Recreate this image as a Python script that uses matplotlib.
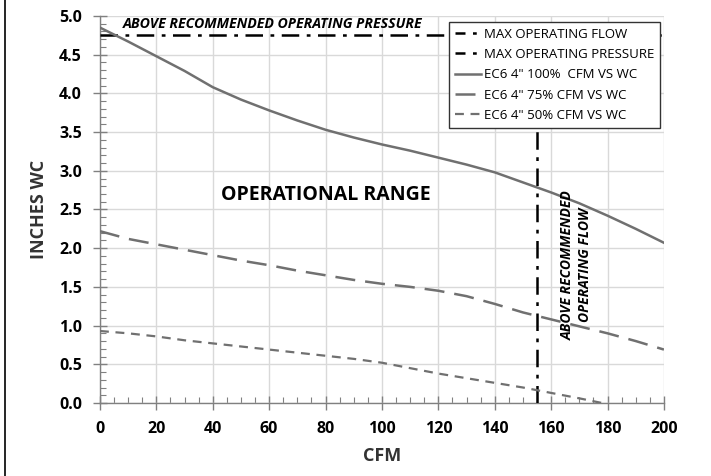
import matplotlib
matplotlib.use("Agg")
import matplotlib.pyplot as plt
from matplotlib.lines import Line2D
from matplotlib.ticker import MultipleLocator

plt.rcParams['font.family'] = ['Open Sans', 'DejaVu Sans']

# data
cfm = [0, 10, 20, 30, 40, 50, 60, 70, 80, 90, 100, 110, 120, 130, 140, 150, 160, 170, 180, 190, 200]
wc_100 = [4.85, 4.67, 4.48, 4.29, 4.08, 3.92, 3.78, 3.65, 3.53, 3.43, 3.34, 3.26, 3.17, 3.08, 2.98,
          2.85, 2.72, 2.58, 2.42, 2.25, 2.07]
wc_75 = [2.22, 2.12, 2.05, 1.98, 1.91, 1.84, 1.78, 1.71, 1.65, 1.59, 1.54, 1.50, 1.45, 1.38, 1.28,
         1.17, 1.08, 0.99, 0.90, 0.80, 0.69]
cfm_50 = [0, 10, 20, 30, 40, 50, 60, 70, 80, 90, 100, 110, 120, 130, 140, 150, 160, 170, 178]
wc_50 = [0.93, 0.90, 0.86, 0.81, 0.77, 0.73, 0.69, 0.65, 0.61, 0.57, 0.52, 0.45, 0.38, 0.32, 0.26,
         0.20, 0.13, 0.06, 0.0]

max_flow = 155
max_pressure = 4.75

labels = ['MAX OPERATING FLOW', 'MAX OPERATING PRESSURE', 'EC6 4" 100%  CFM VS WC',
          'EC6 4" 75% CFM VS WC', 'EC6 4" 50% CFM VS WC']

fig = plt.figure(figsize=(7.11, 4.76), dpi=100)
ax = fig.add_axes([0.1406, 0.1534, 0.7932, 0.8130])

curve_col = '#707070'
dashdot = (0, (7, 3, 1.5, 3))

ax.axvline(max_flow, color='black', lw=1.8, ls=dashdot, zorder=3)
ax.axhline(max_pressure, color='black', lw=1.8, ls=dashdot, zorder=3)
ax.plot(cfm, wc_100, color=curve_col, lw=1.8, zorder=3)
ax.plot(cfm, wc_75, color=curve_col, lw=1.8, ls=(0, (8, 4)), zorder=3)
ax.plot(cfm_50, wc_50, color=curve_col, lw=1.6, ls=(0, (4, 3)), zorder=3)

ax.set_xlim(0, 200)
ax.set_ylim(0, 5)
ax.xaxis.set_major_locator(MultipleLocator(20))
ax.xaxis.set_minor_locator(MultipleLocator(5))
ax.yaxis.set_major_locator(MultipleLocator(0.5))
ax.yaxis.set_minor_locator(MultipleLocator(0.1))
ax.grid(True, which='major', color='#d9d9d9', lw=1.0, zorder=0)
ax.set_axisbelow(True)

for s in ['top', 'right']:
    ax.spines[s].set_visible(False)
for s in ['left', 'bottom']:
    ax.spines[s].set_color('#808080')
    ax.spines[s].set_linewidth(1.0)

ax.tick_params(which='major', direction='inout', length=10, width=1.0, color='#808080',
               labelsize=11.5, pad=8)
ax.tick_params(which='minor', direction='in', length=4, width=0.8, color='#808080')
ax.set_xticks(ax.get_xticks())
ax.set_xticklabels([f"{int(v)}" for v in ax.get_xticks()], fontweight='bold')
ax.set_yticks(ax.get_yticks())
ax.set_yticklabels([f"{v:.1f}" for v in ax.get_yticks()], fontweight='bold')
ax.set_xlim(0, 200)
ax.set_ylim(0, 5)

ax.set_xlabel('CFM', fontsize=13, fontweight='bold', color='#333333', labelpad=7)
ax.set_ylabel('INCHES WC', fontsize=13, fontweight='bold', color='#333333', labelpad=8)

ax.text(8, 4.80, 'ABOVE RECOMMENDED OPERATING PRESSURE', fontsize=10.2, fontweight='bold',
        fontstyle='italic', ha='left', va='bottom')
ax.text(80, 2.69, 'OPERATIONAL RANGE', fontsize=14, fontweight='bold', ha='center', va='center')
ax.text(169, 1.78, 'ABOVE RECOMMENDED\nOPERATING FLOW', fontsize=10, fontweight='bold',
        fontstyle='italic', rotation=90, ha='center', va='center', multialignment='center',
        linespacing=1.3)

handles = [
    Line2D([], [], color='black', lw=1.8, ls=(0, (4, 3, 1.5, 3, 1.5, 3))),
    Line2D([], [], color='black', lw=1.8, ls=(0, (4, 3, 1.5, 3, 1.5, 3))),
    Line2D([], [], color=curve_col, lw=1.8),
    Line2D([], [], color=curve_col, lw=1.8, ls=(0, (8, 4))),
    Line2D([], [], color=curve_col, lw=1.6, ls=(0, (4, 3))),
]
leg = ax.legend(handles, labels, loc='upper right', bbox_to_anchor=(0.993, 0.985),
                borderaxespad=0, prop={'size': 9.5, 'weight': 'normal'}, frameon=True,
                fancybox=False, framealpha=1, edgecolor='#333333', handlelength=2.0,
                handletextpad=0.2, labelspacing=0.55, borderpad=0.45)
leg.get_frame().set_linewidth(1.0)
leg.set_zorder(5)

# border line on the left edge of the image
fig.add_artist(Line2D([0.0065, 0.0065], [0.0, 1.0], color='black', lw=1.2,
                      transform=fig.transFigure))

fig.savefig('out.png', dpi=100)
